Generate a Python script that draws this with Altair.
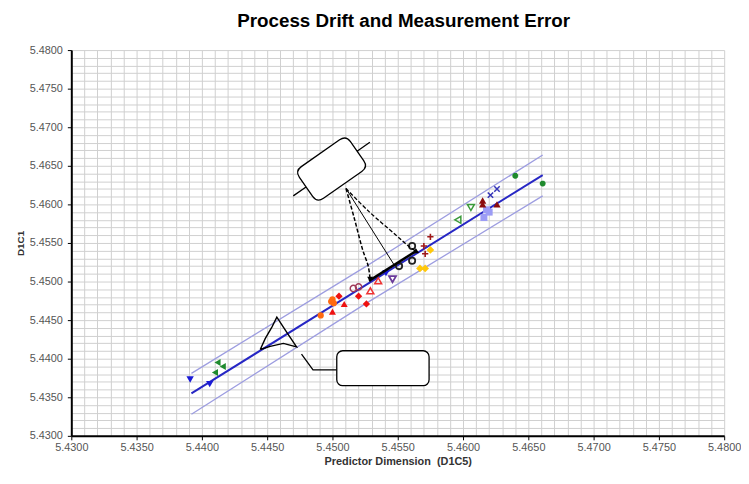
import altair as alt
import pandas as pd

# ---------------- axis ticks ----------------
grid_vals = [round(5.430 + 0.001 * i, 3) for i in range(51)]
MAJOR_TEST = "abs(datum.value*200 - round(datum.value*200)) < 1e-6"

# ---------------- data series ----------------
blue_tri_x = [5.4391, 5.4406, 5.4541]
blue_tri_y = [5.4373, 5.4367, 5.4511]
green_ltri_x = [5.4412, 5.4416, 5.4410]
green_ltri_y = [5.4395, 5.4390, 5.4382]
orange_x = [5.4491, 5.4500, 5.4501, 5.4499]
orange_y = [5.4456, 5.4477, 5.4472, 5.4474]
red_tri_x = [5.4500, 5.4509]
red_tri_y = [5.4461, 5.4471]
red_dia_x = [5.4505, 5.4520, 5.4526]
red_dia_y = [5.4481, 5.4481, 5.4471]
pink_circ_x = [5.4516, 5.4520]
pink_circ_y = [5.4491, 5.4493]
red_otri_x = [5.4529, 5.4535]
red_otri_y = [5.4488, 5.4501]
purple_otri_x = [5.4546]
purple_otri_y = [5.4503]
black_circ_x = [5.4551, 5.4561, 5.4561]
black_circ_y = [5.4520, 5.4527, 5.4546]
plus_x = [5.4570, 5.4571, 5.4575]
plus_y = [5.4546, 5.4536, 5.4558]
gold_x = [5.4575, 5.4567, 5.4571]
gold_y = [5.4541, 5.4517, 5.4517]
green_oltri_x = [5.4596]
green_oltri_y = [5.4580]
green_odtri_x = [5.4606]
green_odtri_y = [5.4596]
lav_x = [5.4616, 5.4620, 5.4618]
lav_y = [5.4583, 5.4590, 5.4593]
dred_tri_x = [5.4615, 5.4615, 5.4626]
dred_tri_y = [5.4605, 5.4600, 5.4600]
bluex_x = [5.4621, 5.4626]
bluex_y = [5.4612, 5.4620]
ast_x = [5.4640, 5.4661]
ast_y = [5.4637, 5.4627]

# fitted line and prediction band
fit_x = [5.4392, 5.4661]
fit_y = [5.4355, 5.4638]
band_x = [5.4392, 5.4526, 5.4661]
upper_y = [5.4381, 5.4520, 5.4664]
lower_y = [5.4328, 5.4472, 5.4611]

# ---------------- annotation shapes (data units) ----------------
box1_x = [5.44993]
box1_y = [5.46458]
dash_left_x = [5.45104, 5.45167, 5.45227, 5.45273, 5.45288]
dash_left_y = [5.46205, 5.45821, 5.45436, 5.45205, 5.45030]
thin_x = [5.45104, 5.45470]
thin_y = [5.46205, 5.45222]
dash_right_x = [5.45104, 5.45280, 5.45483, 5.45583, 5.45646]
dash_right_y = [5.46205, 5.45906, 5.45606, 5.45458, 5.45385]
thick_x = [5.45280, 5.45646]
thick_y = [5.45009, 5.45401]
sail_x = [5.44447, 5.44485, 5.44536, 5.44574, 5.44649, 5.44725, 5.44624, 5.44523, 5.44447]
sail_y = [5.44119, 5.44260, 5.44410, 5.44538, 5.44346, 5.44154, 5.44199, 5.44160, 5.44119]
conn_x = [5.44763, 5.44851, 5.45033]
conn_y = [5.44060, 5.43855, 5.43855]
box2_x, box2_x2 = 5.45033, 5.45740
box2_y, box2_y2 = 5.44103, 5.43650

FONT = "Liberation Sans"

x_axis = alt.Axis(
    values=grid_vals, grid=True, gridColor="#cfcfcf", gridWidth=1,
    labelExpr=f"{MAJOR_TEST} ? format(datum.value, '.4f') : ''",
    labelOverlap=False, labelFlush=False, labelFontSize=11, labelColor="#555555",
    labelFont=FONT, labelPadding=2,
    tickOpacity={"condition": {"test": MAJOR_TEST, "value": 1}, "value": 0},
    tickSize=4, tickColor="black", tickWidth=1,
    domainColor="black", domainWidth=2,
    title="Predictor Dimension\u00a0 (D1C5)", titleFont=FONT, titleFontSize=11,
    titleFontWeight="bold", titleColor="#333333", titlePadding=3,
)
y_axis = alt.Axis(
    values=grid_vals, grid=True, gridColor="#cfcfcf", gridWidth=1,
    labelExpr=f"{MAJOR_TEST} ? format(datum.value, '.4f') : ''",
    labelOverlap=False, labelFontSize=11, labelColor="#555555", labelFont=FONT,
    labelPadding=5,
    tickOpacity={"condition": {"test": MAJOR_TEST, "value": 1}, "value": 0},
    tickSize=4, tickColor="black", tickWidth=1,
    domainColor="black", domainWidth=2,
    title="D1C1", titleFont=FONT, titleFontSize=10, titleFontWeight="bold",
    titleColor="#333333", titlePadding=4,
)
xs = alt.Scale(domain=[5.43, 5.48], nice=False, zero=False)
ys = alt.Scale(domain=[5.43, 5.48], nice=False, zero=False)


def X(f="x"):
    return alt.X(f"{f}:Q", scale=xs, axis=x_axis)


def Y(f="y"):
    return alt.Y(f"{f}:Q", scale=ys, axis=y_axis)


def df(xv, yv):
    return pd.DataFrame({"x": xv, "y": yv, "i": list(range(len(xv)))})


layers = []

# band lines and fit line
layers.append(alt.Chart(df(band_x, upper_y)).mark_line(color="#9d9de0", strokeWidth=1.3)
              .encode(x=X(), y=Y(), order="i:O"))
layers.append(alt.Chart(df(band_x, lower_y)).mark_line(color="#9d9de0", strokeWidth=1.3)
              .encode(x=X(), y=Y(), order="i:O"))
layers.append(alt.Chart(df(fit_x, fit_y)).mark_line(color="#2626c4", strokeWidth=2)
              .encode(x=X(), y=Y(), order="i:O"))

PLUS = "M -1,0 L 1,0 M 0,-1 L 0,1"
XSH = "M -1,-1 L 1,1 M -1,1 L 1,-1"
AST = "M -1,0 L 1,0 M 0,-1 L 0,1 M -0.7,-0.7 L 0.7,0.7 M -0.7,0.7 L 0.7,-0.7"

series = [
    (blue_tri_x, blue_tri_y, "triangle-down", True, "#1a1ad6", 55, 1),
    (green_ltri_x, green_ltri_y, "triangle-left", True, "#1f8a2e", 50, 1),
    (orange_x, orange_y, "circle", True, "#ff6a10", 40, 1),
    (red_tri_x, red_tri_y, "triangle-up", True, "#ee1111", 50, 1),
    (red_dia_x, red_dia_y, "diamond", True, "#ee1111", 55, 1),
    (pink_circ_x, pink_circ_y, "circle", False, "#a03a5a", 40, 1.5),
    (red_otri_x, red_otri_y, "triangle-up", False, "#ee3333", 50, 1.5),
    (purple_otri_x, purple_otri_y, "triangle-down", False, "#6a3a9a", 50, 1.8),
    (black_circ_x, black_circ_y, "circle", False, "#222222", 40, 1.8),
    (plus_x, plus_y, PLUS, False, "#a01818", 40, 1.6),
    (gold_x, gold_y, "diamond", True, "#ffc80a", 60, 1),
    (green_oltri_x, green_oltri_y, "triangle-left", False, "#3a9a3a", 50, 1.5),
    (green_odtri_x, green_odtri_y, "triangle-down", False, "#3a9a3a", 50, 1.5),
    (lav_x, lav_y, "square", True, "#9c9cf5", 50, 1),
    (dred_tri_x, dred_tri_y, "triangle-up", True, "#8c0c0c", 55, 1),
    (bluex_x, bluex_y, XSH, False, "#3434b8", 30, 1.5),
    (ast_x, ast_y, AST, False, "#1f8a2e", 35, 2),
]
for sx, sy, shp, filled, col, size, sw in series:
    layers.append(
        alt.Chart(df(sx, sy)).mark_point(
            shape=shp, filled=filled, color=col, size=size, strokeWidth=sw, opacity=1
        ).encode(x=X(), y=Y())
    )

# annotations
ROUNDED = ("M -0.75,-0.62 L 0.75,-0.62 Q 1,-0.62 1,-0.37 L 1,0.37 Q 1,0.62 0.75,0.62 "
           "L -0.75,0.62 Q -1,0.62 -1,0.37 L -1,-0.37 Q -1,-0.62 -0.75,-0.62 Z "
           "M 1,0 L 1.5,0 M -1,0 L -1.5,0")
layers.append(alt.Chart(df(box1_x, box1_y)).mark_point(
    shape=ROUNDED, filled=True, fill="white", stroke="black", strokeWidth=1.3,
    size=3969, angle=325, opacity=1).encode(x=X(), y=Y()))
layers.append(alt.Chart(df(dash_left_x, dash_left_y)).mark_line(
    color="black", strokeWidth=1.5, strokeDash=[4, 2], interpolate="cardinal")
    .encode(x=X(), y=Y(), order="i:O"))
layers.append(alt.Chart(df(dash_right_x, dash_right_y)).mark_line(
    color="black", strokeWidth=1.3, strokeDash=[4, 2], interpolate="cardinal")
    .encode(x=X(), y=Y(), order="i:O"))
layers.append(alt.Chart(df(thin_x, thin_y)).mark_line(color="black", strokeWidth=1)
              .encode(x=X(), y=Y(), order="i:O"))
layers.append(alt.Chart(df(thick_x, thick_y)).mark_line(color="black", strokeWidth=2.5)
              .encode(x=X(), y=Y(), order="i:O"))
layers.append(alt.Chart(df([dash_left_x[-1]], [dash_left_y[-1]])).mark_point(
    shape="triangle-down", filled=True, color="black", size=35, opacity=1)
    .encode(x=X(), y=Y()))
layers.append(alt.Chart(df([dash_right_x[-1]], [dash_right_y[-1]])).mark_point(
    shape="triangle-right", filled=True, color="black", size=35, angle=25, opacity=1)
    .encode(x=X(), y=Y()))
layers.append(alt.Chart(df(sail_x, sail_y)).mark_line(
    color="black", strokeWidth=1.4, interpolate="linear")
    .encode(x=X(), y=Y(), order="i:O"))
layers.append(alt.Chart(df(conn_x, conn_y)).mark_line(color="black", strokeWidth=1.3)
              .encode(x=X(), y=Y(), order="i:O"))
layers.append(alt.Chart(pd.DataFrame({"x": [box2_x], "x2": [box2_x2], "y": [box2_y], "y2": [box2_y2]}))
              .mark_rect(fill="white", stroke="black", strokeWidth=1.3, cornerRadius=6)
              .encode(x=X(), x2="x2", y=Y(), y2="y2"))

chart = alt.layer(*layers).properties(
    width=660, height=390,
    padding={"left": 7, "top": 2, "right": 0, "bottom": 3},
    title=alt.TitleParams("Process Drift and Measurement Error", font=FONT, fontSize=19,
                          fontWeight="bold", color="black", offset=13, dx=6),
).configure_view(stroke=None)

chart.save("out.html", embed_options={"renderer": "svg", "actions": False})
